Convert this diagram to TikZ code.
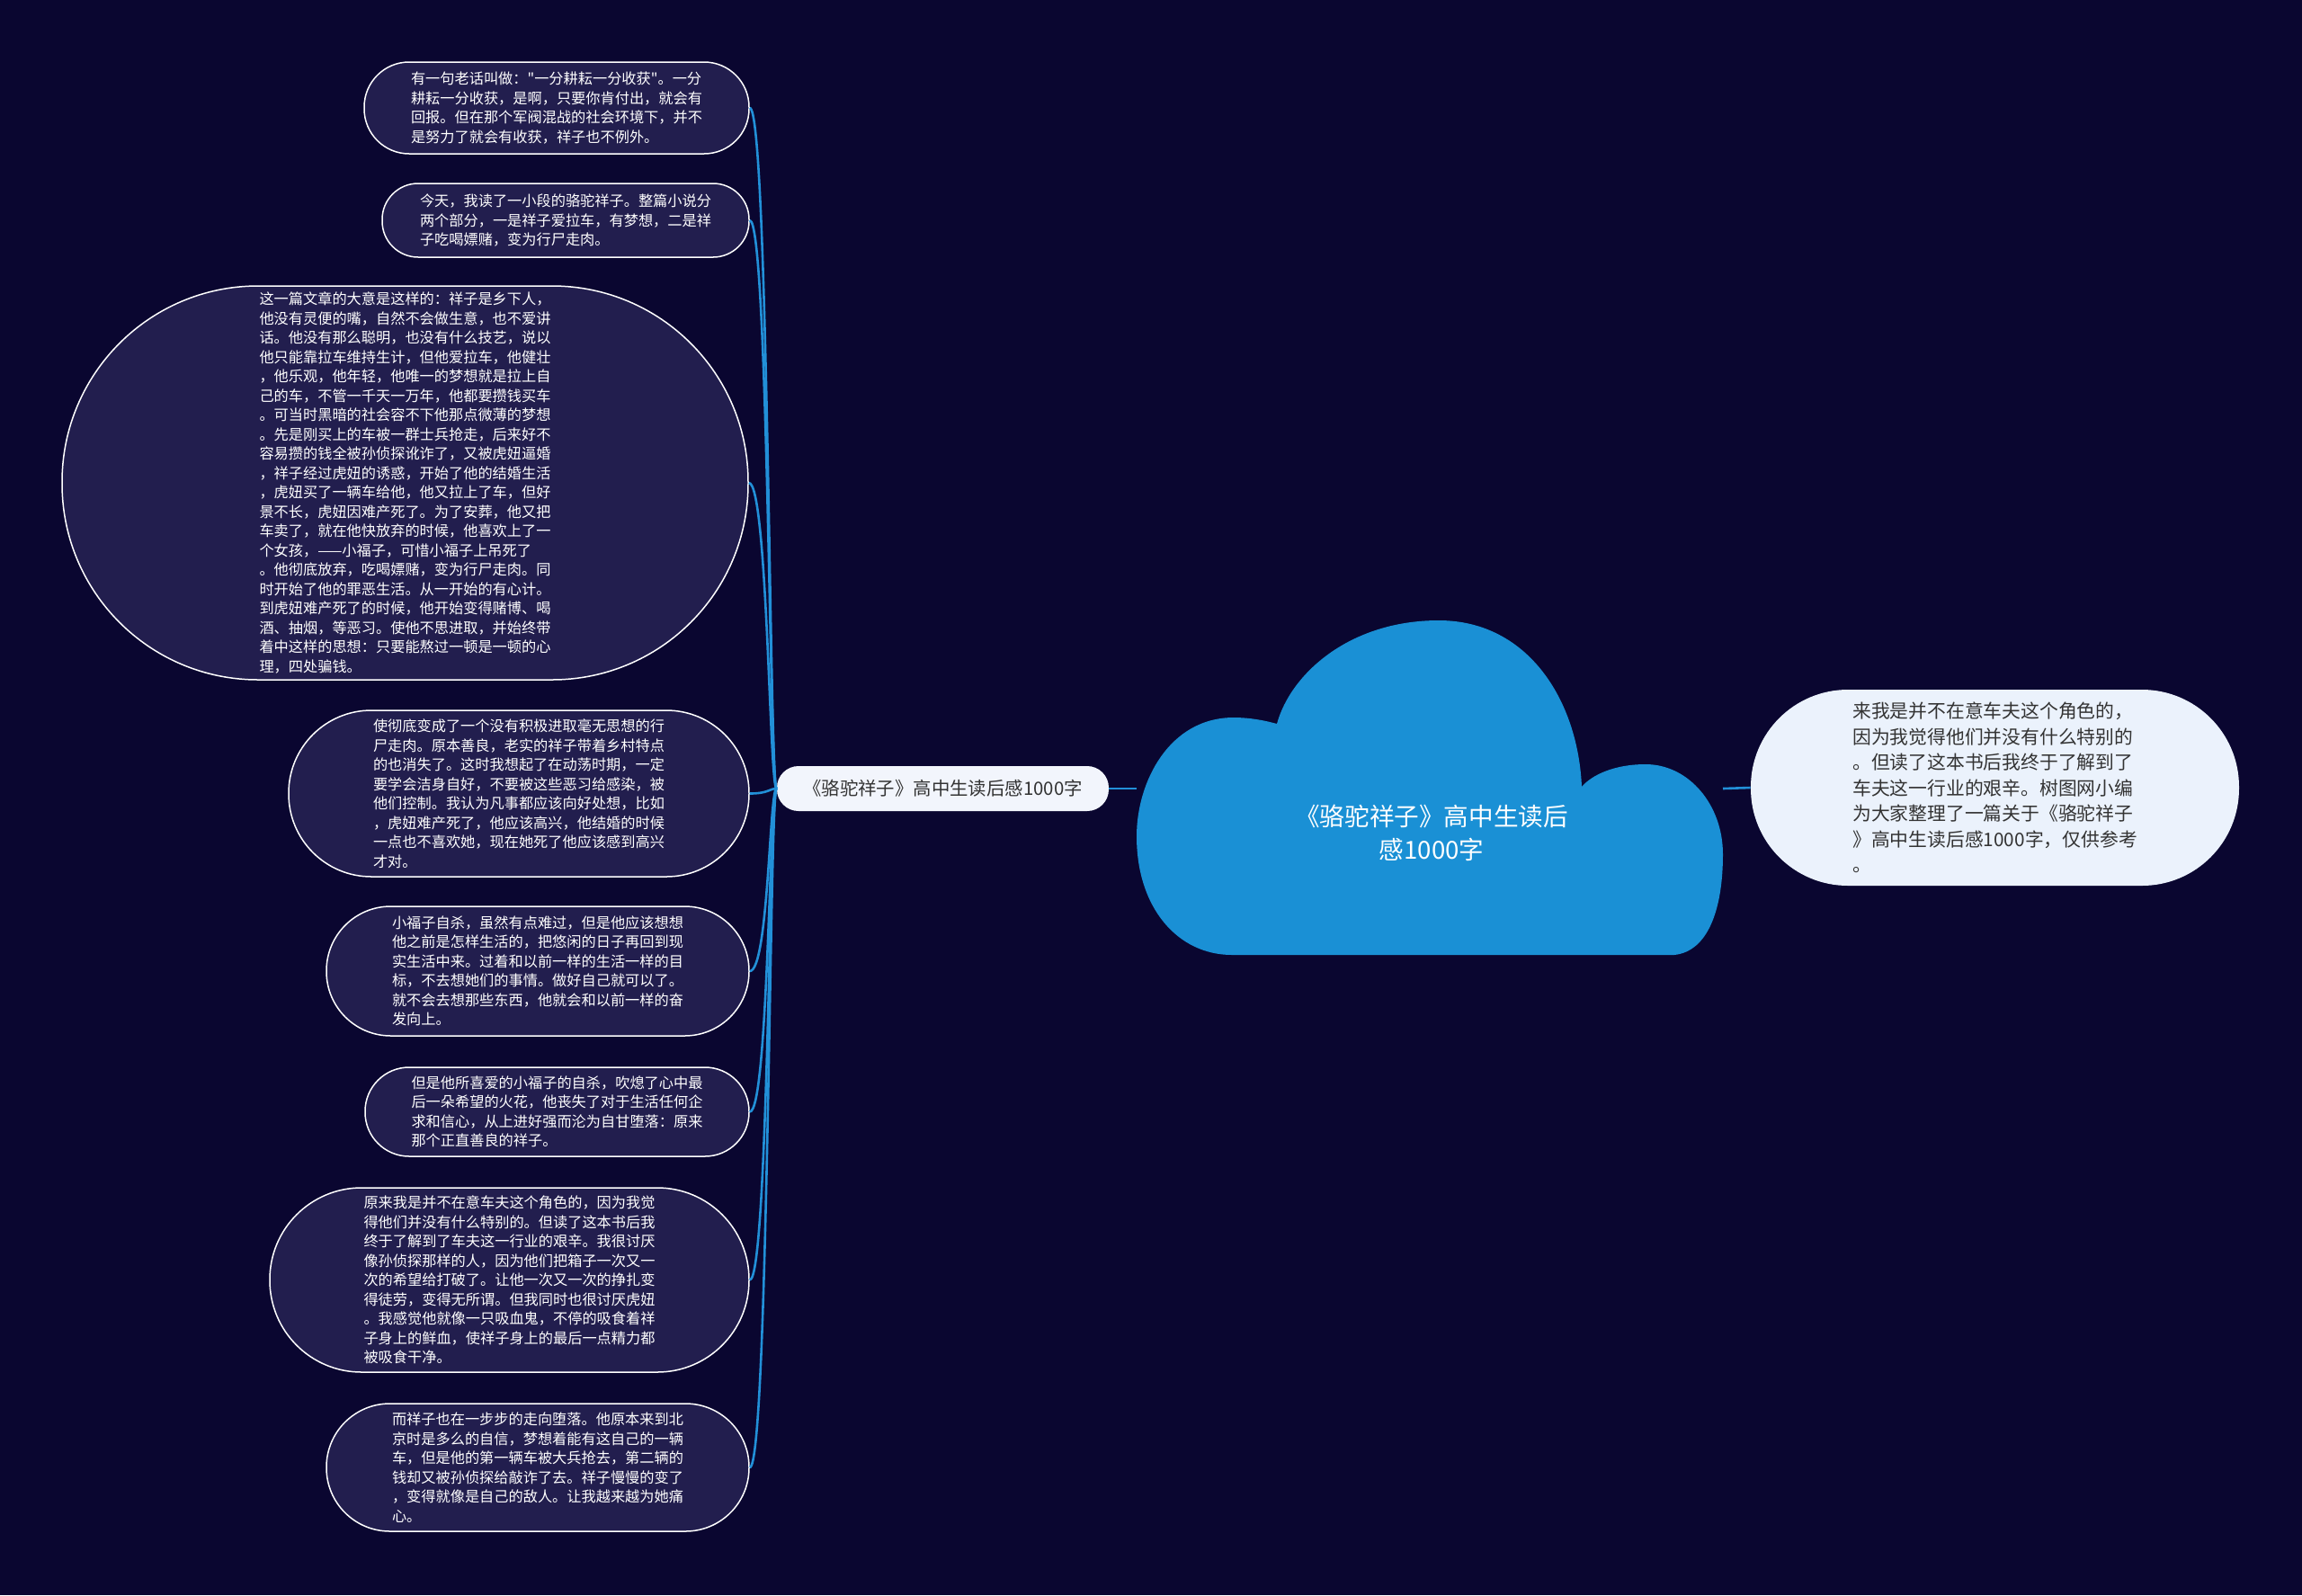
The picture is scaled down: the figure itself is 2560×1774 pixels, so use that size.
\documentclass[tikz,border=0pt]{standalone}
\usepackage{fontspec}
\newfontfamily\cjk{Noto Sans CJK SC}
\definecolor{bgc}{HTML}{0A0630}
\definecolor{leaffill}{HTML}{221E4E}
\definecolor{linkblue}{HTML}{2290D8}
\definecolor{cloudblue}{HTML}{1A90D5}
\definecolor{midfill}{HTML}{F2F5FC}
\definecolor{rightfill}{HTML}{EBF2FC}
\definecolor{darktext}{HTML}{333333}
\tikzset{
  leafbox/.style={draw=white, line width=0.75pt, fill=leaffill, text=white,
    font=\cjk\fontsize{8.1}{10.75}\selectfont, align=left, inner sep=0pt},
  conn/.style={draw=linkblue, line width=1.3pt},
}
\begin{document}
\begin{tikzpicture}[x=0.5pt,y=-0.5pt]
\fill[bgc] (0,0) rectangle (2560,1774);
\useasboundingbox (0,0) rectangle (2560,1774);

% cloud
\fill[cloudblue] (1370,1062) -- (1862,1062)
  .. controls (1900,1058) and (1916,1010) .. (1916,950)
  .. controls (1916,895) and (1878,850) .. (1830,850)
  .. controls (1795,850) and (1770,862) .. (1759,875)
  .. controls (1755,780) and (1700,690) .. (1600,690)
  .. controls (1500,690) and (1435,750) .. (1420,805)
  .. controls (1402,800) and (1386,798) .. (1372,798)
  .. controls (1300,798) and (1264,870) .. (1264,930)
  .. controls (1264,1010) and (1310,1062) .. (1370,1062) -- cycle;
\node[text=white, font=\cjk\fontsize{13.8}{18.5}\selectfont, align=center] (root) at (1592,926)
  {《骆驼祥子》高中生读后\\感1000字};
\coordinate (cloudL) at (1264,877);
\coordinate (cloudR) at (1916,877);

% middle node
\node[fill=midfill, text=darktext, rounded corners=12pt, minimum width=184.5pt, minimum height=25pt,
  inner sep=0pt, font=\cjk\fontsize{10.2}{12}\selectfont] (mid) at (1048.5,877)
  {《骆驼祥子》高中生读后感1000字};

% right node
\node[fill=rightfill, text=darktext, rounded corners=54pt, minimum width=271.5pt, minimum height=109pt,
  inner sep=0pt, align=left, font=\cjk\fontsize{10.4}{14.25}\selectfont] (right) at (2218.5,876)
  {来我是并不在意车夫这个角色的，\\因为我觉得他们并没有什么特别的\\。但读了这本书后我终于了解到了\\车夫这一行业的艰辛。树图网小编\\为大家整理了一篇关于《骆驼祥子\\》高中生读后感1000字，仅供参考\\。};

% leaves
\node[leafbox, minimum width=214pt, minimum height=51pt, rounded corners=25pt] (l1) at (619,120)
  {有一句老话叫做："一分耕耘一分收获"。一分\\耕耘一分收获，是啊，只要你肯付出，就会有\\回报。但在那个军阀混战的社会环境下，并不\\是努力了就会有收获，祥子也不例外。};
\node[leafbox, minimum width=204pt, minimum height=41pt, rounded corners=20pt] (l2) at (629,245)
  {今天，我读了一小段的骆驼祥子。整篇小说分\\两个部分，一是祥子爱拉车，有梦想，二是祥\\子吃喝嫖赌，变为行尸走肉。};
\node[leafbox, minimum width=381.5pt, minimum height=219pt, rounded corners=109pt] (l3) at (450.5,537)
  {这一篇文章的大意是这样的：祥子是乡下人，\\他没有灵便的嘴，自然不会做生意，也不爱讲\\话。他没有那么聪明，也没有什么技艺，说以\\他只能靠拉车维持生计，但他爱拉车，他健壮\\，他乐观，他年轻，他唯一的梦想就是拉上自\\己的车，不管一千天一万年，他都要攒钱买车\\。可当时黑暗的社会容不下他那点微薄的梦想\\。先是刚买上的车被一群士兵抢走，后来好不\\容易攒的钱全被孙侦探讹诈了，又被虎妞逼婚\\，祥子经过虎妞的诱惑，开始了他的结婚生活\\，虎妞买了一辆车给他，他又拉上了车，但好\\景不长，虎妞因难产死了。为了安葬，他又把\\车卖了，就在他快放弃的时候，他喜欢上了一\\个女孩，——小福子，可惜小福子上吊死了\\。他彻底放弃，吃喝嫖赌，变为行尸走肉。同\\时开始了他的罪恶生活。从一开始的有心计。\\到虎妞难产死了的时候，他开始变得赌博、喝\\酒、抽烟，等恶习。使他不思进取，并始终带\\着中这样的思想：只要能熬过一顿是一顿的心\\理，四处骗钱。};
\node[leafbox, minimum width=256pt, minimum height=92.5pt, rounded corners=46pt] (l4) at (577,882.5)
  {使彻底变成了一个没有积极进取毫无思想的行\\尸走肉。原本善良，老实的祥子带着乡村特点\\的也消失了。这时我想起了在动荡时期，一定\\要学会洁身自好，不要被这些恶习给感染，被\\他们控制。我认为凡事都应该向好处想，比如\\，虎妞难产死了，他应该高兴，他结婚的时候\\一点也不喜欢她，现在她死了他应该感到高兴\\才对。};
\node[leafbox, minimum width=235pt, minimum height=72pt, rounded corners=35.8pt] (l5) at (598,1080)
  {小福子自杀，虽然有点难过，但是他应该想想\\他之前是怎样生活的，把悠闲的日子再回到现\\实生活中来。过着和以前一样的生活一样的目\\标，不去想她们的事情。做好自己就可以了。\\就不会去想那些东西，他就会和以前一样的奋\\发向上。};
\node[leafbox, minimum width=213.5pt, minimum height=49.5pt, rounded corners=24.5pt] (l6) at (619.5,1236.5)
  {但是他所喜爱的小福子的自杀，吹熄了心中最\\后一朵希望的火花，他丧失了对于生活任何企\\求和信心，从上进好强而沦为自甘堕落：原来\\那个正直善良的祥子。};
\node[leafbox, minimum width=266.5pt, minimum height=102.5pt, rounded corners=51pt] (l7) at (566.5,1423.5)
  {原来我是并不在意车夫这个角色的，因为我觉\\得他们并没有什么特别的。但读了这本书后我\\终于了解到了车夫这一行业的艰辛。我很讨厌\\像孙侦探那样的人，因为他们把箱子一次又一\\次的希望给打破了。让他一次又一次的挣扎变\\得徒劳，变得无所谓。但我同时也很讨厌虎妞\\。我感觉他就像一只吸血鬼，不停的吸食着祥\\子身上的鲜血，使祥子身上的最后一点精力都\\被吸食干净。};
\node[leafbox, minimum width=235pt, minimum height=71pt, rounded corners=35.3pt] (l8) at (598,1632)
  {而祥子也在一步步的走向堕落。他原本来到北\\京时是多么的自信，梦想着能有这自己的一辆\\车，但是他的第一辆车被大兵抢去，第二辆的\\钱却又被孙侦探给敲诈了去。祥子慢慢的变了\\，变得就像是自己的敌人。让我越来越为她痛\\心。};

% connectors
\draw[conn] (mid.east) -- (cloudL);
\draw[conn] (cloudR) -- (right.west);
\foreach \n in {l1,l2,l3,l4,l5,l6,l7,l8}{
  \draw[conn] (mid.west) .. controls +(-8,0) and +(21,0) .. (\n.east);
}
\end{tikzpicture}
\end{document}
